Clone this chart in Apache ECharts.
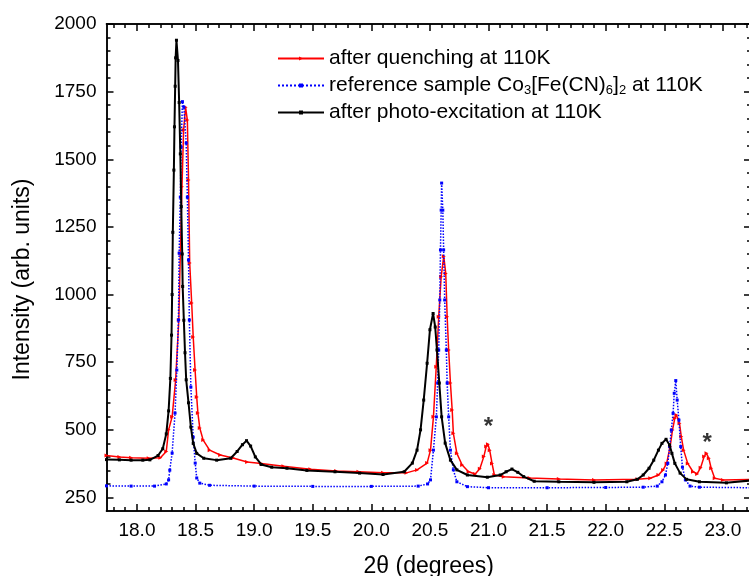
<!DOCTYPE html>
<html>
<head>
<meta charset="utf-8">
<script src="https://cdn.jsdelivr.net/npm/echarts@6/dist/echarts.min.js"></script>
<style>
  html, body { margin: 0; padding: 0; background: #fff; }
  #main { width: 749px; height: 576px; }
</style>
</head>
<body>
<div id="main"></div>
<script>
// 数据：三条衍射曲线（2θ, 强度）
const redName = 'after quenching at 110K';
const blueName = 'reference sample Co3[Fe(CN)6]2 at 110K';
const blackName = 'after photo-excitation at 110K';

const redX = [17.74, 17.85, 17.95, 18.10, 18.20, 18.25, 18.27, 18.30, 18.33, 18.357, 18.37, 18.384, 18.398, 18.415, 18.43, 18.44, 18.45, 18.467, 18.48, 18.496, 18.51, 18.52, 18.536, 18.565, 18.62, 18.71, 18.82, 18.94, 19.06, 19.25, 19.48, 19.70, 19.89, 20.10, 20.30, 20.39, 20.476, 20.505, 20.53, 20.554, 20.575, 20.596, 20.618, 20.635, 20.647, 20.66, 20.675, 20.69, 20.70, 20.73, 20.775, 20.83, 20.886, 20.926, 20.96, 20.98, 20.995, 21.01, 21.03, 21.05, 21.13, 21.35, 21.60, 21.90, 22.27, 22.38, 22.45, 22.49, 22.52, 22.55, 22.57, 22.59, 22.603, 22.63, 22.645, 22.665, 22.70, 22.745, 22.78, 22.81, 22.84, 22.86, 22.88, 22.90, 22.93, 23.00, 23.24];
const redY = [405, 400, 397, 395, 397, 420, 500, 548, 684, 906, 1153, 1398, 1608, 1692, 1645, 1423, 1117, 969, 843, 721, 621, 562, 507, 462, 425, 407, 396, 381, 376, 365, 354, 348, 345, 341, 341, 352, 377, 425, 548, 733, 918, 1066, 1142, 1078, 918, 795, 673, 573, 487, 413, 370, 345, 337, 356, 401, 438, 447, 425, 376, 333, 327, 322, 318, 315, 317, 321, 333, 352, 376, 438, 499, 543, 555, 524, 475, 425, 376, 345, 337, 360, 401, 413, 395, 358, 321, 315, 317];

const blueX = [17.74, 17.95, 18.15, 18.25, 18.27, 18.28, 18.30, 18.325, 18.34, 18.354, 18.36, 18.37, 18.377, 18.388, 18.40, 18.42, 18.43, 18.44, 18.447, 18.46, 18.48, 18.497, 18.51, 18.536, 18.62, 19.00, 19.50, 20.00, 20.40, 20.48, 20.505, 20.53, 20.555, 20.566, 20.575, 20.584, 20.59, 20.596, 20.60, 20.61, 20.617, 20.626, 20.64, 20.647, 20.66, 20.675, 20.70, 20.73, 20.82, 21.00, 21.50, 22.00, 22.32, 22.44, 22.48, 22.51, 22.53, 22.546, 22.56, 22.575, 22.585, 22.598, 22.61, 22.625, 22.64, 22.655, 22.68, 22.72, 22.80, 23.24];
const blueY = [293, 292, 292, 300, 315, 351, 414, 562, 721, 906, 1153, 1360, 1545, 1713, 1693, 1560, 1360, 1128, 906, 658, 473, 377, 322, 303, 295, 292, 291, 291, 292, 300, 315, 425, 548, 673, 795, 980, 1165, 1312, 1412, 1312, 1165, 980, 795, 673, 548, 425, 352, 308, 290, 286, 286, 287, 288, 292, 308, 333, 376, 438, 499, 561, 635, 682, 610, 536, 438, 362, 315, 292, 288, 286];

const blackX = [17.74, 17.85, 17.95, 18.05, 18.11, 18.18, 18.22, 18.25, 18.27, 18.285, 18.295, 18.30, 18.306, 18.315, 18.32, 18.326, 18.33, 18.337, 18.35, 18.36, 18.37, 18.378, 18.386, 18.39, 18.40, 18.41, 18.42, 18.44, 18.46, 18.48, 18.51, 18.57, 18.68, 18.80, 18.855, 18.90, 18.935, 18.97, 19.01, 19.06, 19.15, 19.28, 19.45, 19.69, 19.90, 20.10, 20.28, 20.35, 20.39, 20.42, 20.447, 20.476, 20.50, 20.527, 20.545, 20.56, 20.58, 20.60, 20.63, 20.675, 20.73, 20.82, 20.99, 21.10, 21.15, 21.20, 21.25, 21.30, 21.39, 21.60, 21.90, 22.18, 22.27, 22.32, 22.37, 22.41, 22.45, 22.48, 22.515, 22.545, 22.565, 22.59, 22.635, 22.69, 22.80, 23.03, 23.24];
const blackY = [390, 389, 388, 388, 389, 405, 430, 485, 570, 690, 850, 1000, 1230, 1460, 1620, 1770, 1875, 1940, 1865, 1710, 1520, 1325, 1150, 1030, 905, 785, 685, 600, 510, 450, 413, 395, 388, 395, 420, 445, 460, 440, 400, 372, 362, 358, 350, 345, 340, 335, 345, 377, 425, 500, 610, 746, 870, 930, 880, 795, 673, 548, 451, 388, 352, 333, 325, 333, 345, 355, 343, 327, 310, 308, 306, 308, 317, 333, 358, 388, 425, 450, 465, 444, 413, 376, 340, 317, 308, 304, 313];

// 星号标注（杂质峰）
const starMarks = [[21.0, 527], [22.865, 470]];

// 坐标轴刻度
const xMajor = [18.0, 18.5, 19.0, 19.5, 20.0, 20.5, 21.0, 21.5, 22.0, 22.5, 23.0];
const yMajor = [250, 500, 750, 1000, 1250, 1500, 1750, 2000];

const X_MIN = 17.74, X_MAX = 23.24;
const Y_MIN = 200, Y_MAX = 2000;
const FONT = '"Liberation Sans", Arial, sans-serif';

const xMinor = [];
for (let i = 178; i <= 232; i++) {
    if (i % 5 !== 0) xMinor.push(i / 10);
}
const yMinor = [];
for (let v = 300; v < 2000; v += 50) {
    if (v % 250 !== 0) yMinor.push(v);
}

const zip = (xs, ys) => xs.map((x, i) => [x, ys[i]]);

// 生成一条框线坐标轴（主刻度或次刻度）
function frameAxis(dim, position, ticks, len, extra) {
    const isX = dim === 'x';
    return Object.assign({
        type: 'value',
        position: position,
        min: isX ? X_MIN : Y_MIN,
        max: isX ? X_MAX : Y_MAX,
        axisLine: { show: true, onZero: false, lineStyle: { color: '#000', width: 1.5 } },
        axisTick: { show: true, inside: true, length: len, customValues: ticks, lineStyle: { color: '#000', width: 1.5 } },
        axisLabel: { show: false },
        splitLine: { show: false },
        minorTick: { show: false }
    }, extra || {});
}

const labelStyle = { fontSize: 19, color: '#000', fontFamily: FONT };

const option = {
    backgroundColor: '#ffffff',
    animation: false,
    grid: { left: 106.5, top: 24, right: -2, bottom: 65, containLabel: false, outerBoundsMode: 'none' },
    legend: {
        orient: 'vertical',
        left: 277,
        top: 47,
        padding: 0,
        itemWidth: 46,
        itemHeight: 5,
        itemGap: 4,
        selectedMode: false,
        data: [redName, blueName, blackName],
        formatter: name => name === blueName
            ? 'reference sample Co{sub|3}[Fe(CN){sub|6}]{sub|2} at 110K'
            : name,
        textStyle: {
            fontSize: 21, lineHeight: 23, color: '#000', fontFamily: FONT,
            rich: {
                sub: { fontSize: 13, lineHeight: 13, padding: [10, 0, 0, 0], color: '#000', fontFamily: FONT }
            }
        }
    },
    xAxis: [
        frameAxis('x', 'bottom', xMajor, 7, {
            axisLabel: Object.assign({ show: true, customValues: xMajor, margin: 10, formatter: v => v.toFixed(1) }, labelStyle),
            name: '2θ (degrees)',
            nameLocation: 'middle',
            nameGap: 44,
            nameTextStyle: { fontSize: 23, color: '#000', fontFamily: FONT }
        }),
        frameAxis('x', 'bottom', xMinor, 4),
        frameAxis('x', 'top', xMajor, 7),
        frameAxis('x', 'top', xMinor, 4)
    ],
    yAxis: [
        frameAxis('y', 'left', yMajor, 7, {
            axisLabel: Object.assign({ show: true, customValues: yMajor, margin: 10, formatter: v => String(v) }, labelStyle),
            name: 'Intensity (arb. units)',
            nameLocation: 'middle',
            nameGap: 72,
            nameTextStyle: { fontSize: 23, color: '#000', fontFamily: FONT, padding: [0, 24, 0, 0] }
        }),
        frameAxis('y', 'left', yMinor, 4),
        frameAxis('y', 'right', yMajor, 7),
        frameAxis('y', 'right', yMinor, 4)
    ],
    series: [
        {
            name: redName,
            type: 'line',
            data: zip(redX, redY),
            symbol: 'triangle',
            symbolRotate: -90,
            symbolSize: 4,
            lineStyle: { color: '#ff0000', width: 1.5 },
            itemStyle: { color: '#ff0000' },
            z: 2
        },
        {
            name: blueName,
            type: 'line',
            data: zip(blueX, blueY),
            symbol: 'rect',
            symbolSize: 3,
            lineStyle: { color: '#0000ff', width: 1.5, type: 'dotted' },
            itemStyle: { color: '#0000ff' },
            z: 3
        },
        {
            name: blackName,
            type: 'line',
            data: zip(blackX, blackY),
            symbol: 'rect',
            symbolSize: 3,
            lineStyle: { color: '#000000', width: 2 },
            itemStyle: { color: '#000000' },
            z: 4
        },
        {
            name: 'stars',
            type: 'scatter',
            data: starMarks,
            symbolSize: 1,
            itemStyle: { color: 'rgba(0,0,0,0)' },
            label: {
                show: true, position: 'inside', formatter: '*', offset: [0, 5],
                fontSize: 24, fontWeight: 'bold', color: '#000', fontFamily: FONT
            },
            z: 5
        }
    ]
};

const chart = echarts.init(document.getElementById('main'), null, { renderer: 'canvas' });
chart.setOption(option);
</script>
</body>
</html>
